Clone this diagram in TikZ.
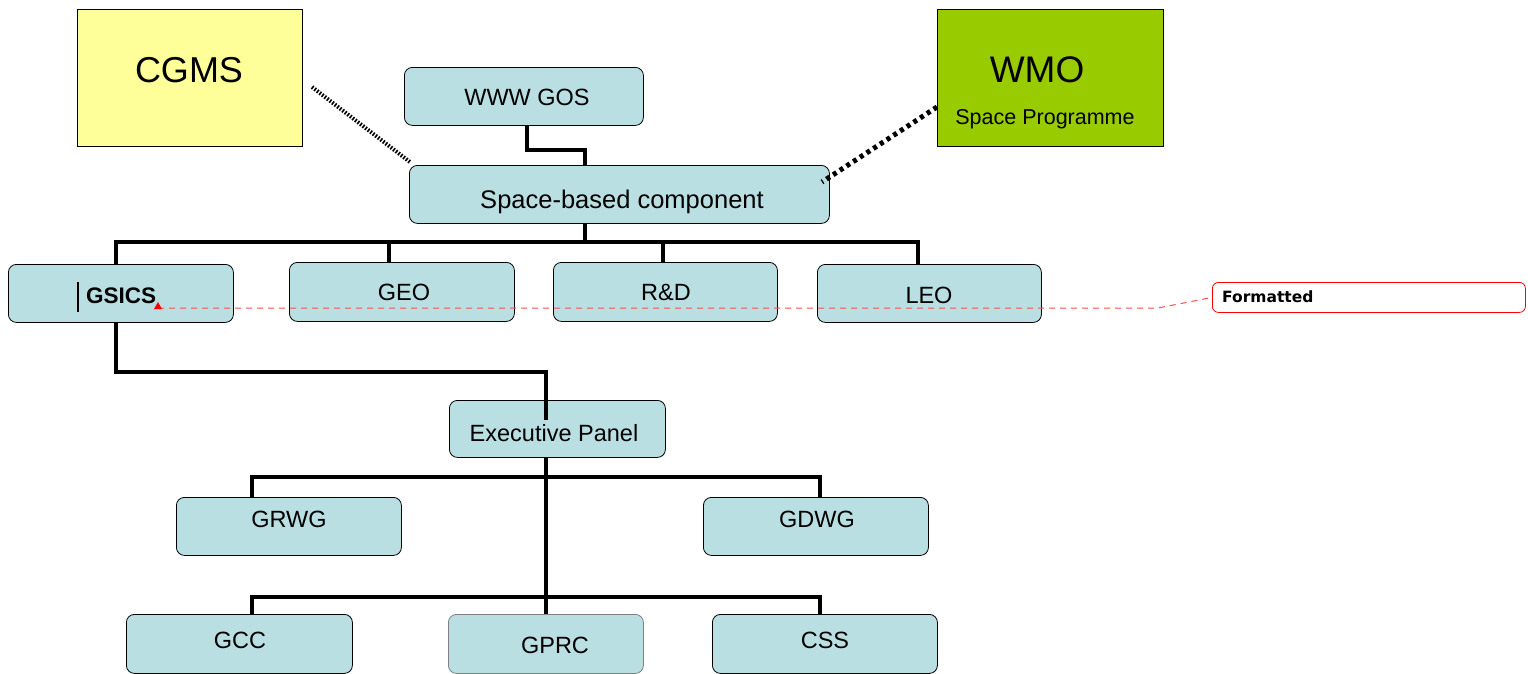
\documentclass[tikz,border=0pt]{standalone}
\usepackage{fontspec}
\setmainfont{Liberation Sans}
\newfontfamily\dvfont{DejaVu Sans}
\definecolor{boxfill}{HTML}{BADFE2}
\definecolor{cgms}{HTML}{FFFF99}
\definecolor{wmo}{HTML}{99CC00}
\tikzset{
  bx/.style={draw=black, line width=0.8pt, fill=boxfill, rounded corners=8pt, inner sep=0pt, anchor=north west},
  conn/.style={line width=3.5pt, line cap=rect},
  lbl/.style={font=\fontsize{23.5}{25}\selectfont, inner sep=0pt},
}
\begin{document}
\begin{tikzpicture}[x=1pt,y=-1pt]
\useasboundingbox (0,0) rectangle (1528,673);
% top boxes
\node[draw=black, line width=0.8pt, fill=cgms, minimum width=225pt, minimum height=137pt, anchor=north west] (cgms) at (77,9) {};
\node[font=\fontsize{36}{38}\selectfont, inner sep=0pt] (cgmst) at (189,70) {CGMS};
\node[draw=black, line width=0.8pt, fill=wmo, minimum width=226pt, minimum height=137pt, anchor=north west] (wmo) at (937,9) {};
\node[font=\fontsize{37}{39}\selectfont, inner sep=0pt] (wmot) at (1037,70) {WMO};
\node[font=\fontsize{21.5}{23}\selectfont, inner sep=0pt] (wmosp) at (1045,119) {Space Programme};
% connectors (drawn first)
\coordinate (c1) at (527,150);
\coordinate (c2) at (585,150);
\coordinate (b0) at (585,242);
\coordinate (bl) at (116,242);
\coordinate (br) at (918,242);
\coordinate (g1) at (116,372);
\coordinate (g2) at (546,372);
\coordinate (e1) at (546,418);
\coordinate (h1l) at (252,477);
\coordinate (h1r) at (820,477);
\coordinate (h2l) at (252,597);
\coordinate (h2r) at (820,597);
\draw[conn] (527,125) -- (c1) -- (c2) -- (585,165);
\draw[conn] (585,223) -- (b0);
\draw[conn] (bl) -- (br);
\draw[conn] (bl) -- (116,264);
\draw[conn] (389,242) -- (389,262);
\draw[conn] (663,242) -- (663,262);
\draw[conn] (br) -- (918,264);
\draw[conn] (116,322) -- (g1) -- (g2) -- (546,400);
\draw[conn] (546,457) -- (546,614);
\draw[conn] (h1l) -- (h1r);
\draw[conn] (h1l) -- (252,497);
\draw[conn] (h1r) -- (820,497);
\draw[conn] (h2l) -- (h2r);
\draw[conn] (h2l) -- (252,614);
\draw[conn] (h2r) -- (820,614);
% boxes
\node[bx, minimum width=239pt, minimum height=58pt] (www) at (404,67) {};
\node[lbl] (wwwt) at (527,97) {WWW GOS};
\node[bx, minimum width=420pt, minimum height=58pt] (sbc) at (409,165) {};
\node[font=\fontsize{25.5}{27}\selectfont, inner sep=0pt] (sbct) at (622,202) {Space-based component};
\node[bx, minimum width=225pt, minimum height=58pt] (gsics) at (8,264) {};
\node[font=\bfseries\fontsize{22.5}{24}\selectfont, inner sep=0pt, anchor=west] (gsicst) at (86,296) {GSICS};
\node[bx, minimum width=225pt, minimum height=59pt] (geo) at (289,262) {};
\node[lbl] (geot) at (404,292) {GEO};
\node[bx, minimum width=224pt, minimum height=59pt] (rd) at (553,262) {};
\node[lbl] (rdt) at (666,292) {R\&D};
\node[bx, minimum width=224pt, minimum height=58pt] (leo) at (817,264) {};
\node[lbl] (leot) at (929,295) {LEO};
\node[bx, minimum width=216pt, minimum height=57pt] (exec) at (449,400) {};
\draw[conn] (546,400) -- (e1);
\node[lbl] (exect) at (554,433) {Executive Panel};
\node[bx, minimum width=225pt, minimum height=58pt] (grwg) at (176,497) {};
\node[lbl] (grwgt) at (289,519) {GRWG};
\node[bx, minimum width=225pt, minimum height=58pt] (gdwg) at (703,497) {};
\node[lbl] (gdwgt) at (817,519) {GDWG};
\node[bx, minimum width=226pt, minimum height=59pt] (gcc) at (126,614) {};
\node[lbl] (gcct) at (240,640) {GCC};
\node[bx, draw=gray, minimum width=195pt, minimum height=59pt] (gprc) at (448,614) {};
\node[lbl] (gprct) at (555,645) {GPRC};
\node[bx, minimum width=225pt, minimum height=59pt] (css) at (712,614) {};
\node[lbl] (csst) at (825,640) {CSS};
% dotted links
\coordinate (d1) at (312,87);
\coordinate (d2) at (410,162);
\draw[line width=4pt, dash pattern=on 1.6pt off 1.6pt] (d1) -- (d2);
\coordinate (w1) at (937,107);
\coordinate (w2) at (822,182);
\draw[line width=5pt, dash pattern=on 4pt off 4pt] (w1) -- (w2);
% tracked-change markup
\draw[line width=1.5pt] (78,282) -- (78,312);
\node[draw=red, line width=0.8pt, rounded corners=6pt, minimum width=313pt, minimum height=30pt, anchor=north west] (fmt) at (1212,282) {};
\node[font=\dvfont\bfseries\fontsize{15.5}{17}\selectfont, anchor=west, inner sep=0pt] (fmtt) at (1222,297) {Formatted};
\coordinate (r1) at (158,308);
\coordinate (r2) at (1158,308);
\draw[red!70, line width=1pt, dash pattern=on 6pt off 5pt] (r1) -- (r2) -- (fmt.west);
\fill[red] (154,309) -- (162,309) -- (158,302) -- cycle;
\end{tikzpicture}
\end{document}
